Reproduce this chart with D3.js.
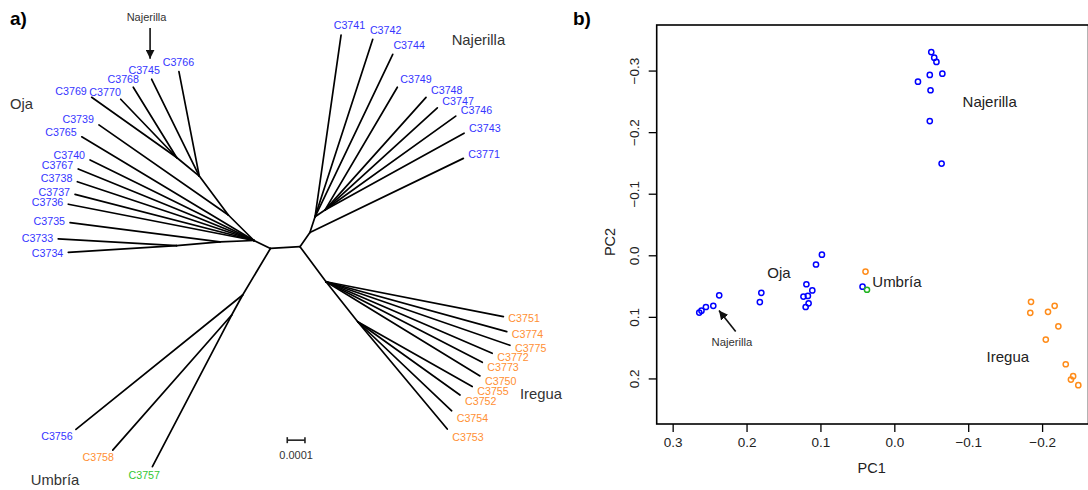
<!DOCTYPE html>
<html>
<head>
<meta charset="utf-8">
<script src="https://cdn.jsdelivr.net/npm/d3@7"></script>
<style>
  body { margin: 0; background: #fff; }
  svg { font-family: "Liberation Sans", Arial, Helvetica, sans-serif; }
</style>
</head>
<body>
<svg id="chart" width="1088" height="490"></svg>
<script>
// ---------- a) unrooted tree ----------
// coordinates of the layout, in units of 0.0001 substitutions (y up)
const nodeNames = ["C", "L", "N0", "N1", "N2", "I1", "I2", "U1", "U2", "O0", "O1", "O2", "n3", "n1", "n2"];
const nodeX = [0, -1.67, 0.56, 0.85, 1.41, 1.47, 3.26, -3.24, -3.86, -2.6, -4.52, -6.97, -4.05, -5.69, -6.97];
const nodeY = [0, -0.1, 0.8, 1.69, 2.07, -1.98, -4.24, -2.73, -3.86, 0.35, 0.27, 0.06, 1.79, 3.99, 5.04];
const edgeFrom = ["C", "C", "C", "L", "L", "O0", "O0", "n3", "n1", "O1", "U1", "N0", "N1", "I1"];
const edgeTo = ["L", "N0", "I1", "O0", "U1", "n3", "O1", "n1", "n2", "O2", "U2", "N1", "N2", "I2"];

const tipNames = [
  "C3766", "C3745", "C3768", "C3770", "C3769", "C3739", "C3765", "C3740", "C3767", "C3738",
  "C3737", "C3736", "C3735", "C3733", "C3734",
  "C3741", "C3742", "C3744", "C3749", "C3748", "C3747", "C3746", "C3743", "C3771",
  "C3751", "C3774", "C3775", "C3772", "C3773", "C3750", "C3755", "C3752", "C3754", "C3753",
  "C3756", "C3758", "C3757"
];
const tipX = [
  -6.84, -8.38, -9.42, -10.13, -11.77, -11.36, -12.33, -11.86, -12.53, -12.58,
  -12.71, -13.09, -12.99, -13.66, -13.09,
  2.32, 4.11, 5.24, 5.5, 7.12, 7.76, 8.8, 9.27, 9.23,
  11.49, 11.68, 11.86, 10.86, 10.3, 10.17, 9.73, 9.04, 8.57, 8.32,
  -12.66, -10.58, -8.34
];
const tipY = [
  9.89, 9.46, 9.01, 8.33, 8.44, 6.88, 6.21, 4.9, 4.39, 3.67,
  2.96, 2.4, 1.36, 0.44, -0.32,
  11.96, 11.72, 10.87, 9.01, 8.44, 7.84, 7.38, 6.41, 4.99,
  -3.95, -4.8, -5.57, -6.02, -6.53, -7.3, -7.9, -8.38, -9.27, -10.3,
  -10.32, -11.49, -12.43
];
const tipParent = [
  "n1", "n1", "n2", "n2", "n2", "n3", "O0", "O0", "O0", "O0",
  "O0", "O0", "O1", "O2", "O2",
  "N1", "N1", "N1", "N2", "N2", "N2", "N2", "N2", "N0",
  "I1", "I1", "I1", "I1", "I1", "I1", "I2", "I2", "I2", "I2",
  "U1", "U2", "U2"
];
const tipCluster = [
  "K1", "K1", "K1", "K1", "K1", "K1", "K1", "K1", "K1", "K1",
  "K1", "K1", "K1", "K1", "K1",
  "K1", "K1", "K1", "K1", "K1", "K1", "K1", "K1", "K1",
  "K2", "K2", "K2", "K2", "K2", "K2", "K2", "K2", "K2", "K2",
  "K1", "K2", "K3"
];

// ---------- b) PCA ----------
const pc1 = [
  -0.05, -0.054, -0.057, -0.065, -0.048, -0.032, -0.049, -0.048, -0.064,
  0.264, 0.261, 0.255, 0.245, 0.237, 0.182, 0.18, 0.123, 0.117, 0.119, 0.111, 0.116, 0.12, 0.106, 0.098, 0.043,
  0.037, 0.039,
  -0.185, -0.184, -0.217, -0.208, -0.222, -0.205, -0.232, -0.242, -0.239, -0.249
];
const pc2 = [
  -0.33, -0.321, -0.314, -0.295, -0.293, -0.282, -0.268, -0.218, -0.149,
  0.093, 0.09, 0.084, 0.082, 0.065, 0.076, 0.061, 0.067, 0.066, 0.047, 0.057, 0.078, 0.084, 0.015, -0.001, 0.051,
  0.056, 0.0265,
  0.0756, 0.0935, 0.0821, 0.0919, 0.1153, 0.1369, 0.177, 0.1964, 0.2018, 0.211
];
const pcaCluster = [
  "K1", "K1", "K1", "K1", "K1", "K1", "K1", "K1", "K1",
  "K1", "K1", "K1", "K1", "K1", "K1", "K1", "K1", "K1", "K1", "K1", "K1", "K1", "K1", "K1", "K1",
  "K3", "K2",
  "K2", "K2", "K2", "K2", "K2", "K2", "K2", "K2", "K2", "K2"
];
const xTicks = [0.3, 0.2, 0.1, 0.0, -0.1, -0.2];
const yTicks = [-0.3, -0.2, -0.1, 0.0, 0.1, 0.2];

// ---------- drawing ----------
const svg = d3.select("#chart");
const labelColor = d3.scaleOrdinal().domain(["K1", "K2", "K3"]).range(["#3535ff", "#ff8f33", "#33c733"]);
const pointColor = d3.scaleOrdinal().domain(["K1", "K2", "K3"]).range(["#0000ff", "#ff8c1a", "#1fb41f"]);

svg.append("defs").append("marker")
  .attr("id", "head")
  .attr("viewBox", "0 0 10 10")
  .attr("refX", 10).attr("refY", 5)
  .attr("markerWidth", 9).attr("markerHeight", 9)
  .attr("markerUnits", "userSpaceOnUse")
  .attr("orient", "auto")
  .append("path").attr("d", "M0,0 L10,5 L0,10 Z").attr("fill", "#111");

// tree scales: 1 unit (0.0001) = 17.7 px
const tx = d3.scaleLinear().domain([0, 1]).range([300, 317.7]);
const ty = d3.scaleLinear().domain([0, 1]).range([246.7, 229]);

const nodes = new Map(nodeNames.map((n, i) => [n, { x: nodeX[i], y: nodeY[i] }]));
const tips = tipNames.map((n, i) => ({ name: n, x: tipX[i], y: tipY[i], parent: nodes.get(tipParent[i]), cluster: tipCluster[i] }));
const edges = edgeFrom.map((f, i) => ({ a: nodes.get(f), b: nodes.get(edgeTo[i]) }))
  .concat(tips.map((t) => ({ a: t.parent, b: t })));

const tree = svg.append("g");
tree.selectAll(".branch")
  .data(edges)
  .join("line")
  .attr("class", "branch")
  .attr("x1", (d) => tx(d.a.x)).attr("y1", (d) => ty(d.a.y))
  .attr("x2", (d) => tx(d.b.x)).attr("y2", (d) => ty(d.b.y))
  .attr("stroke", "#000").attr("stroke-width", 1.7).attr("stroke-linecap", "round");

// tip labels placed from the angle of the terminal branch
tree.selectAll(".tip")
  .data(tips)
  .join("text")
  .attr("class", "tip")
  .attr("font-size", "10.7px")
  .attr("fill", (d) => labelColor(d.cluster))
  .text((d) => d.name)
  .each(function (d) {
    const w = this.getComputedTextLength();
    const a = Math.atan2(d.y - d.parent.y, d.x - d.parent.x);
    const deg = Math.abs(a * 180 / Math.PI);
    const f = Math.max(0, Math.min(1, (deg - 55) / 90));
    const left = tx(d.x) + 5 - (w + 10) * f;
    const cy = ty(d.y) - 10 * Math.sin(a);
    d3.select(this).attr("x", left).attr("y", cy + 3.9);
  });

const groupLab = [
  { t: "Oja", x: -16.38, y: 8.1 },
  { t: "Najerilla", x: 8.57, y: 11.68 },
  { t: "Iregua", x: 12.43, y: -8.32 },
  { t: "Umbría", x: -15.21, y: -13.14 }
];
tree.selectAll(".grp")
  .data(groupLab)
  .join("text")
  .attr("class", "grp")
  .attr("x", (d) => tx(d.x)).attr("y", (d) => ty(d.y))
  .attr("dy", "0.36em")
  .attr("font-size", "14.8px").attr("fill", "#333")
  .text((d) => d.t);

tree.append("text")
  .attr("x", tx(-8.67)).attr("y", ty(12.99)).attr("dy", "0.36em")
  .attr("text-anchor", "middle").attr("font-size", "11px").attr("fill", "#333")
  .text("Najerilla");
tree.append("line")
  .attr("x1", tx(-8.47)).attr("y1", ty(12.36))
  .attr("x2", tx(-8.47)).attr("y2", ty(10.62))
  .attr("stroke", "#111").attr("stroke-width", 1.6).attr("marker-end", "url(#head)");

// scale bar
const sb = tree.append("g").attr("transform", `translate(${tx(-0.72)},${ty(-10.93)})`);
sb.append("line").attr("x1", 0).attr("x2", tx(1) - tx(0)).attr("stroke", "#222").attr("stroke-width", 1.6);
[0, tx(1) - tx(0)].forEach((x) =>
  sb.append("line").attr("x1", x).attr("x2", x).attr("y1", -3).attr("y2", 3).attr("stroke", "#222").attr("stroke-width", 1.6));
sb.append("text").attr("x", (tx(1) - tx(0)) / 2).attr("y", 15).attr("dy", "0.36em")
  .attr("text-anchor", "middle").attr("font-size", "11px").attr("fill", "#333").text("0.0001");

svg.append("text").attr("x", 10).attr("y", 25).attr("font-size", "19px").attr("font-weight", "bold").text("a)");
svg.append("text").attr("x", 573).attr("y", 25).attr("font-size", "19px").attr("font-weight", "bold").text("b)");

// ---------- PCA panel ----------
const px = d3.scaleLinear().domain([0.3216, -0.2628]).range([656.7, 1088.5]);
const py = d3.scaleLinear().domain([-0.374, 0.274]).range([25, 424]);
const pca = svg.append("g");

const fmt = (d) => (d === 0 ? "0.0" : d3.format(".1f")(d));

pca.append("g")
  .attr("transform", "translate(0,424)")
  .call(d3.axisBottom(px).tickValues(xTicks).tickSize(8).tickPadding(5).tickFormat(fmt))
  .call((g) => g.select(".domain").remove())
  .call((g) => g.selectAll("line").attr("stroke-width", 1.3))
  .call((g) => g.selectAll("text").attr("font-size", "13.5px").attr("fill", "#222").attr("font-family", null));

pca.append("g")
  .attr("transform", "translate(656.7,0)")
  .call(d3.axisLeft(py).tickValues(yTicks).tickSize(8).tickFormat(fmt))
  .call((g) => g.select(".domain").remove())
  .call((g) => g.selectAll("line").attr("stroke-width", 1.3))
  .call((g) => g.selectAll("text")
    .attr("x", null).attr("dy", "0.36em")
    .attr("transform", "translate(-22.7,0) rotate(-90)")
    .attr("text-anchor", "middle")
    .attr("font-size", "13.5px").attr("fill", "#222").attr("font-family", null));

pca.append("rect")
  .attr("x", px.range()[0]).attr("y", py.range()[0])
  .attr("width", px.range()[1] - px.range()[0]).attr("height", py.range()[1] - py.range()[0])
  .attr("fill", "none").attr("stroke", "#000").attr("stroke-width", 1.6);

pca.selectAll(".pt")
  .data(pc1.map((v, i) => ({ x: v, y: pc2[i], c: pcaCluster[i] })))
  .join("circle")
  .attr("class", "pt")
  .attr("cx", (d) => px(d.x)).attr("cy", (d) => py(d.y))
  .attr("r", 2.6)
  .attr("fill", "none").attr("stroke", (d) => pointColor(d.c)).attr("stroke-width", 1.5);

pca.append("text").attr("x", 871.7).attr("y", 468).attr("dy", "0.36em")
  .attr("text-anchor", "middle").attr("font-size", "14.5px").attr("fill", "#222").text("PC1");
pca.append("text").attr("transform", "translate(610,242) rotate(-90)").attr("dy", "0.36em")
  .attr("text-anchor", "middle").attr("font-size", "14.5px").attr("fill", "#222").text("PC2");

const pcaLab = [
  { t: "Najerilla", x: -0.0924, y: -0.2495 },
  { t: "Oja", x: 0.172, y: 0.0276 },
  { t: "Umbría", x: 0.0298, y: 0.0427 },
  { t: "Iregua", x: -0.1249, y: 0.1644 }
];
pca.selectAll(".plab")
  .data(pcaLab)
  .join("text")
  .attr("class", "plab")
  .attr("x", (d) => px(d.x)).attr("y", (d) => py(d.y)).attr("dy", "0.36em")
  .attr("font-size", "15px").attr("fill", "#222")
  .text((d) => d.t);

pca.append("line")
  .attr("x1", px(0.2147)).attr("y1", py(0.1239))
  .attr("x2", px(0.2373)).attr("y2", py(0.0898))
  .attr("stroke", "#111").attr("stroke-width", 1.6).attr("marker-end", "url(#head)");
pca.append("text")
  .attr("x", px(0.2198)).attr("y", py(0.140)).attr("dy", "0.36em")
  .attr("text-anchor", "middle").attr("font-size", "11.3px").attr("fill", "#333")
  .text("Najerilla");
</script>
</body>
</html>
